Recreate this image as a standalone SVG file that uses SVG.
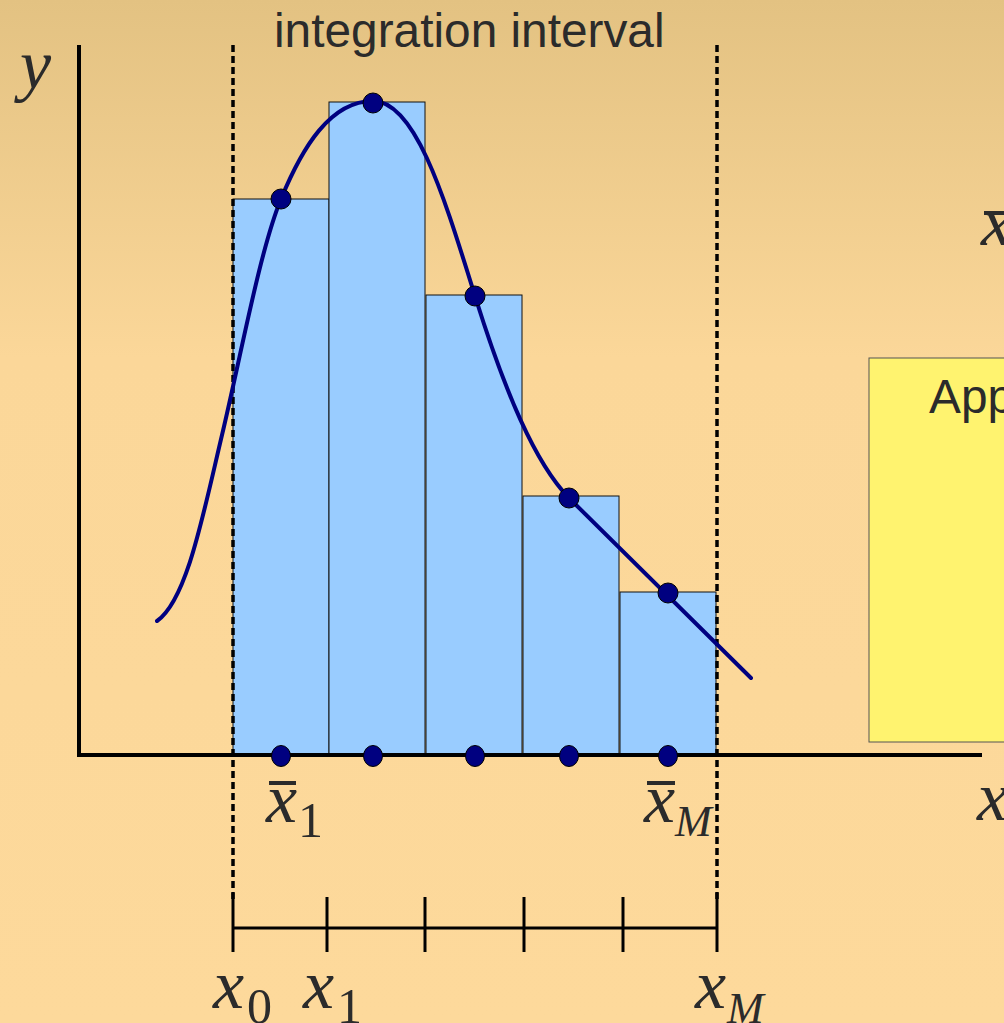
<svg xmlns="http://www.w3.org/2000/svg" width="1004" height="1023" viewBox="0 0 1004 1023">
<defs>
<linearGradient id="bg" x1="0" y1="0" x2="0" y2="1023" gradientUnits="userSpaceOnUse">
<stop offset="0" stop-color="#E3C282"/>
<stop offset="0.35" stop-color="#FBD799"/>
<stop offset="1" stop-color="#FDD99B"/>
</linearGradient>
<style>
.bar{fill:#99CCFF;stroke:#111;stroke-width:1}
.dot{fill:#000080;stroke:#000;stroke-width:1}
.axis{stroke:#000;stroke-width:4;fill:none}
.dash{stroke:#000;stroke-width:3.5;stroke-dasharray:7 4;fill:none}
.tick{stroke:#000;stroke-width:3;fill:none}
.math{font-family:"Liberation Serif","DejaVu Serif",serif;font-style:italic;fill:#2B2B2B;font-size:70px}
.sub{font-family:"Liberation Serif","DejaVu Serif",serif;fill:#2B2B2B;font-size:50px}
.subi{font-family:"Liberation Serif","DejaVu Serif",serif;font-style:italic;fill:#2B2B2B;font-size:44px}
.ov{stroke:#2B2B2B;stroke-width:4}
.lbl{font-family:"Liberation Sans",Arial,sans-serif;fill:#2B2B2B;font-size:47.8px}
</style>
</defs>
<rect x="0" y="0" width="1004" height="1023" fill="url(#bg)"/>

<g id="bars">
<rect class="bar" x="233" y="199" width="96" height="556"/>
<rect class="bar" x="329" y="102" width="96" height="653"/>
<rect class="bar" x="426" y="295" width="96" height="460"/>
<rect class="bar" x="523" y="496" width="96" height="259"/>
<rect class="bar" x="620" y="592" width="96" height="163"/>
</g>

<g id="axes">
<line class="axis" x1="79" y1="45" x2="79" y2="757"/>
<line class="axis" x1="77" y1="755" x2="982" y2="755"/>
</g>

<g id="interval">
<line class="dash" x1="233" y1="45" x2="233" y2="900"/>
<line class="dash" x1="717" y1="45" x2="717" y2="900"/>
<line class="tick" x1="233" y1="928" x2="717" y2="928"/>
<line class="tick" x1="233" y1="893" x2="233" y2="952"/>
<line class="tick" x1="327" y1="897" x2="327" y2="952"/>
<line class="tick" x1="425" y1="897" x2="425" y2="952"/>
<line class="tick" x1="524" y1="897" x2="524" y2="952"/>
<line class="tick" x1="623" y1="897" x2="623" y2="952"/>
<line class="tick" x1="717" y1="893" x2="717" y2="952"/>
</g>

<g id="connectors">
<path d="M157,621 C187,600 203,515 222,435 S260,250 281,199 S330,101 373,101 S445,200 475,296 S535,463 569,498 L751,678" fill="none" stroke="#000080" stroke-width="4" stroke-linecap="round"/>
</g>

<g id="dots">
<circle class="dot" cx="281" cy="199" r="10"/>
<circle class="dot" cx="373" cy="103" r="10"/>
<circle class="dot" cx="475" cy="296" r="10"/>
<circle class="dot" cx="569" cy="498" r="10"/>
<circle class="dot" cx="668" cy="593" r="10"/>
<ellipse class="dot" cx="281" cy="756" rx="9.5" ry="10.5"/>
<ellipse class="dot" cx="373" cy="756" rx="9.5" ry="10.5"/>
<ellipse class="dot" cx="475" cy="756" rx="9.5" ry="10.5"/>
<ellipse class="dot" cx="569" cy="756" rx="9.5" ry="10.5"/>
<ellipse class="dot" cx="668" cy="756" rx="9.5" ry="10.5"/>
</g>

<g id="approx-box">
<rect x="869" y="358" width="140" height="384" fill="#FFF36F" stroke="#555" stroke-width="1"/>
<text class="lbl" x="929" y="413">App</text>
</g>

<g id="title">
<text class="lbl" x="274" y="47">integration interval</text>
</g>

<g id="labels">
<text class="math" x="20" y="88">y</text>
<text class="math" x="977" y="820">x</text>
<line class="ov" x1="984" y1="213" x2="1004" y2="213"/>
<text class="math" x="981" y="245">x</text>

<line class="ov" x1="269" y1="783" x2="296" y2="783"/>
<text class="math" x="266" y="822">x</text>
<text class="sub" x="298" y="837">1</text>

<line class="ov" x1="647" y1="783" x2="675" y2="783"/>
<text class="math" x="644" y="822">x</text>
<text class="subi" x="675" y="836">M</text>

<text class="math" x="213" y="1008">x</text>
<text class="sub" x="247" y="1023">0</text>
<text class="math" x="303" y="1008">x</text>
<text class="sub" x="337" y="1023">1</text>
<text class="math" x="695" y="1008">x</text>
<text class="subi" x="727" y="1023">M</text>
</g>
</svg>
